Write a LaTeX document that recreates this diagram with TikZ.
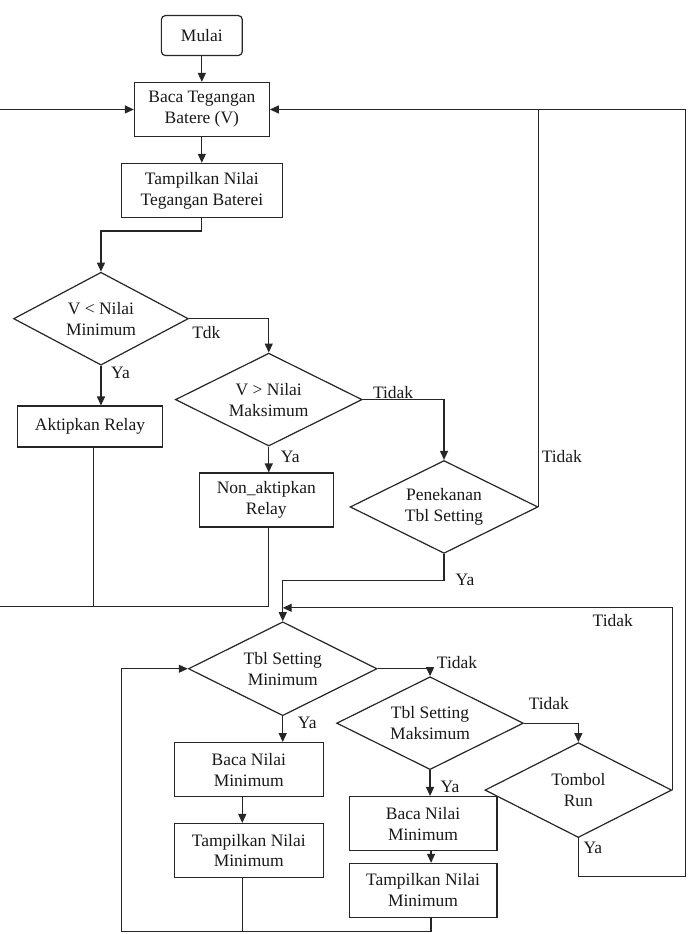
\documentclass[tikz,border=0pt]{standalone}
\usepackage{fontspec}
\setmainfont{Liberation Serif}
\usetikzlibrary{shapes.geometric,arrows.meta,calc}
\begin{document}
\begin{tikzpicture}[x=1pt,y=-1pt,
  every node/.style={font=\fontsize{17.5}{21}\selectfont, inner sep=0pt, text=black!90},
  box/.style={draw, rectangle, align=center, minimum width=#1, minimum height=54},
  box/.default=149,
  dec/.style args={#1x#2}{draw, diamond, aspect=2, align=center, minimum width=#1, minimum height=#2},
  ln/.style={line width=1.2pt, draw=black!85},
  arr/.style={ln, -{Triangle[length=9pt,width=8pt]}},
  every path/.style={line width=1.2pt, draw=black!85},
]
\useasboundingbox (0,0) rectangle (688,934);
\fill[white] (0,0) rectangle (688,934);

% nodes
\node[draw, rounded corners=4pt, minimum width=81, minimum height=40] (mulai) at (201.5,35) {Mulai};
\node[box=135] (bt) at (201.5,109) {Baca Tegangan\\Batere (V)};
\node[box=161] (tt) at (201.5,190) {Tampilkan Nilai\\Tegangan Baterei};
\node[dec=175x93] (d1) at (100.5,318.5) {V < Nilai\\Minimum};
\node[draw, minimum width=145, minimum height=41] (ak) at (89.5,426.5) {Aktipkan Relay};
\node[dec=187x93] (d2) at (268.5,399.5) {V > Nilai\\Maksimum};
\node[box=134] (na) at (266,500) {Non\_aktipkan\\Relay};
\node[dec=188x93] (pk) at (444,507) {Penekanan\\Tbl Setting};
\node[dec=189x94] (d3) at (282.5,669) {Tbl Setting\\Minimum};
\node[box] (b1) at (248.5,770) {Baca Nilai\\Minimum};
\node[box] (t1) at (248.5,851) {Tampilkan Nilai\\Minimum};
\node[dec=187x93] (d4) at (430,723.5) {Tbl Setting\\Maksimum};
\node[box=148] (b2) at (423,824) {Baca Nilai\\Minimum};
\node[box=148] (t2) at (423,891) {Tampilkan Nilai\\Minimum};
\node[dec=187x95] (tr) at (578.5,790.5) {Tombol\\Run};

% helper coordinates
\coordinate (Lx) at (-3,607);
\coordinate (pj) at (0,581);
\coordinate (tj) at (0,608);
\coordinate (Rb) at (686,877);
\coordinate (Bl) at (121,932);

% connectors
\draw[arr] (mulai) -- (bt);
\draw[arr] (bt) -- (tt);
\draw[arr] (tt.south) -- ++(0,13) -| (d1.north);
\draw[arr] (d1.south) -- (d1.south |- ak.north);
\draw[arr] (d1.east) -| (d2.north);
\draw[arr] (d2.south) -- (d2.south |- na.north);
\draw[arr] (d2.east) -| (pk.north);
\draw[ln] (pk.east) -- (pk.east |- bt.east);
\draw[arr] (d2.south |- na.south) -- (d2.south |- Lx) -- (Lx) |- (bt.west);
\draw[ln] ([xshift=3.5pt]ak.south) -- ([xshift=3.5pt]ak.south |- Lx);
\draw[arr] (pk.south) -- (pk.south |- pj) -| (d3.north);
\draw[arr] (tr.east) -- (tr.east |- tj) -- (d3.north |- tj);
\draw[arr] (tr.south) |- (Rb) |- (bt.east);
\draw[arr] (d3.south) -- (d3.south |- b1.north);
\draw[arr] ([xshift=-6.5pt]b1.south) -- ([xshift=-6.5pt]t1.north);
\draw[arr] (d3.east) -| (d4.north);
\draw[arr] (d4.south) -- (d4.south |- b2.north);
\draw[arr] ([xshift=8pt]b2.south) -- ([xshift=8pt]t2.north);
\draw[arr] (d4.east) -| (tr.north);
\draw[arr] ([xshift=8pt]t2.south) |- (Bl) |- (d3.west);
\draw[ln] ([xshift=-6.5pt]t1.south) -- ([xshift=-6.5pt]t1.south |- Bl);

% labels
\node (l1) at (206,332) {Tdk};
\node (l2) at (120,373) {Ya};
\node (l3) at (290,457) {Ya};
\node (l4) at (393,392) {Tidak};
\node (l5) at (562,456) {Tidak};
\node (l6) at (465,580) {Ya};
\node (l7) at (613,621) {Tidak};
\node (l8) at (457,663) {Tidak};
\node (l9) at (307,723) {Ya};
\node (l10) at (549,704) {Tidak};
\node (l11) at (450,787) {Ya};
\node (l12) at (593,848) {Ya};
\end{tikzpicture}
\end{document}
